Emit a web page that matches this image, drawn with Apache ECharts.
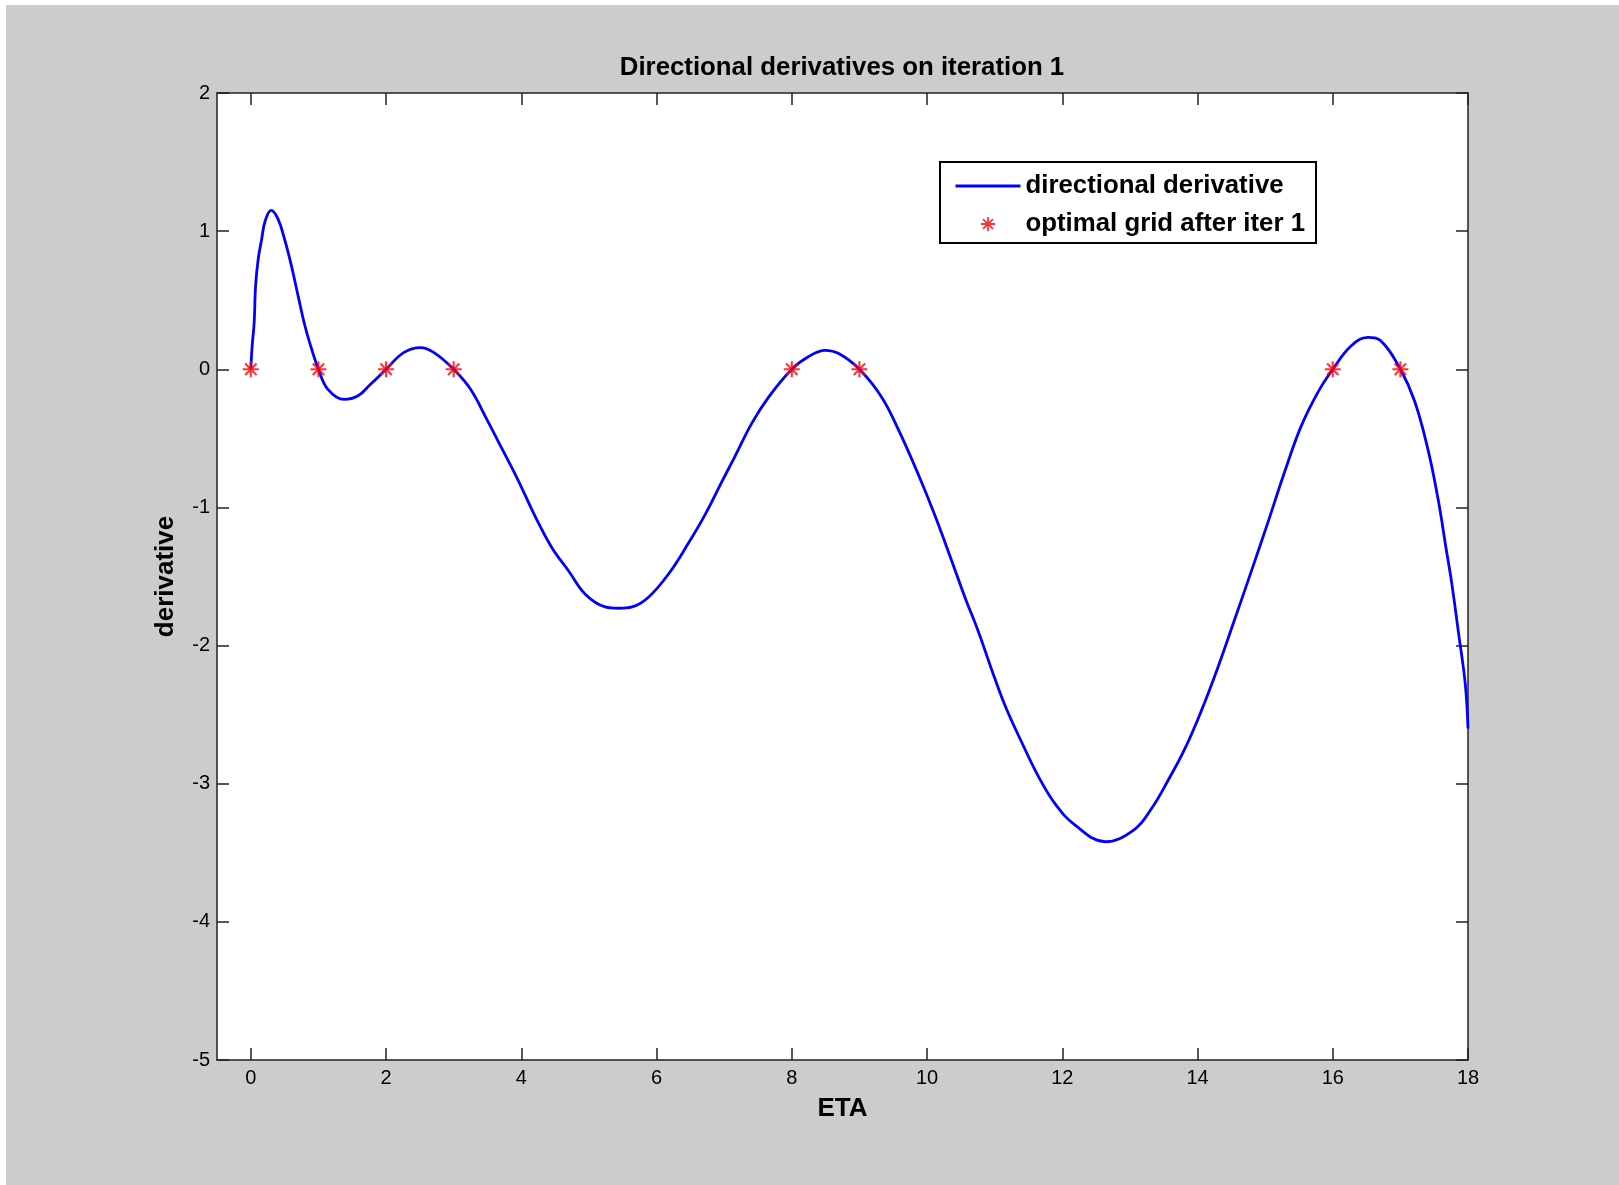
<!DOCTYPE html>
<html lang="en">
  <head>
    <meta charset="UTF-8" />
    <title>Directional derivatives on iteration 1</title>
    <script src="https://cdn.jsdelivr.net/npm/echarts@6.0.0/dist/echarts.min.js"></script>
    <style>
      body {
        margin: 0;
        background: #fff;
      }
      #chart {
        position: absolute;
        left: 6px;
        top: 5px;
        width: 1613px;
        height: 1180px;
      }
    </style>
  </head>
  <body>
    <div id="chart"></div>
  </body>
</html>
<script>
  // values
  const etaValues = [
    0, 0.02, 0.05, 0.07, 0.11, 0.16, 0.21, 0.3, 0.4, 0.5, 0.6, 0.7, 0.8, 0.9, 1.0,
    1.14, 1.38, 1.58, 1.77, 2.0, 2.26, 2.51, 2.71, 3.0, 3.25, 3.49, 3.72, 3.95,
    4.21, 4.45, 4.7, 4.95, 5.24, 5.44, 5.64, 5.88, 6.18, 6.47, 6.72, 6.97, 7.16,
    7.41, 7.66, 8.0, 8.25, 8.49, 8.7, 9.0, 9.32, 9.57, 9.87, 10.11, 10.36, 10.56,
    10.76, 10.96, 11.15, 11.4, 11.65, 11.9, 12.19, 12.64, 13.07, 13.32, 13.56,
    13.81, 14.05, 14.3, 14.55, 14.79, 15.04, 15.29, 15.53, 15.78, 16.0, 16.27,
    16.52, 16.71, 17.0, 17.21, 17.41, 17.56, 17.68, 17.76, 17.86, 17.96, 18.0,
  ];
  const derivValues = [
    0, 0.17, 0.34, 0.6, 0.8, 0.94, 1.07, 1.15, 1.09, 0.94, 0.75, 0.53, 0.315, 0.145, 0,
    -0.145, -0.218, -0.194, -0.109, 0, 0.121, 0.157, 0.121, 0, -0.145, -0.363, -0.58, -0.8,
    -1.07, -1.29, -1.46, -1.63, -1.72, -1.73, -1.72, -1.65, -1.48, -1.26, -1.05, -0.81, -0.63,
    -0.39, -0.2, 0, 0.092, 0.137, 0.112, 0, -0.195, -0.43, -0.76, -1.05, -1.38, -1.65,
    -1.9, -2.18, -2.43, -2.7, -2.95, -3.15, -3.3, -3.42, -3.33, -3.18, -2.98,
    -2.75, -2.48, -2.16, -1.81, -1.47, -1.11, -0.74, -0.415, -0.167, 0, 0.169,
    0.231, 0.206, 0, -0.23, -0.585, -0.947, -1.31, -1.55, -1.91, -2.28, -2.6,
  ];
  const gridEta = [0, 1, 2, 3, 8, 9, 16, 17];
  const gridDeriv = [0, 0, 0, 0, 0, 0, 0, 0];
  const xTicks = [0, 2, 4, 6, 8, 10, 12, 14, 16, 18];

  const font = "'Liberation Sans', Arial, Helvetica, sans-serif";
  const axisColor = "#222";
  // matlab-like asterisk marker
  const star =
    "path://M8.7 0L11.3 0L11.3 20L8.7 20Z M0 8.7L20 8.7L20 11.3L0 11.3Z " +
    "M1.98 3.82L3.82 1.98L18.02 16.18L16.18 18.02Z M16.18 1.98L18.02 3.82L3.82 18.02L1.98 16.18Z";

  const chart = echarts.init(document.getElementById("chart"));

  const xBase = {
    type: "value",
    min: -0.5,
    max: 18,
    splitLine: { show: false },
    axisLine: { show: true, onZero: false, lineStyle: { color: axisColor, width: 1.5 } },
    axisTick: { show: true, inside: true, length: 12, customValues: xTicks, lineStyle: { color: axisColor, width: 1.5 } },
  };
  const yBase = {
    type: "value",
    min: -5,
    max: 2,
    interval: 1,
    splitLine: { show: false },
    axisLine: { show: true, onZero: false, lineStyle: { color: axisColor, width: 1.5 } },
    axisTick: { show: true, inside: true, length: 12, lineStyle: { color: axisColor, width: 1.5 } },
  };

  const option = {
    backgroundColor: "#cccccc",
    animation: false,
    textStyle: { fontFamily: font },
    title: {
      text: "Directional derivatives on iteration 1",
      left: 836,
      top: 50,
      padding: 0,
      textAlign: "center",
      textStyle: { fontFamily: font, fontSize: 25.8, fontWeight: "bold", color: "#000" },
    },
    legend: {
      orient: "vertical",
      left: 934,
      top: 157,
      padding: [11, 11, 6, 14],
      itemGap: 12,
      itemWidth: 65,
      itemHeight: 14,
      selectedMode: false,
      backgroundColor: "#fff",
      borderColor: "#000",
      borderWidth: 2,
      textStyle: { fontFamily: font, fontSize: 25.8, fontWeight: "bold", color: "#000" },
      data: [
        { name: "directional derivative", itemStyle: { opacity: 0 }, lineStyle: { width: 3 } },
        "optimal grid after iter 1",
      ],
    },
    grid: {
      left: 211,
      top: 88,
      right: 151,
      bottom: 125,
      show: true,
      backgroundColor: "#fff",
      borderWidth: 0,
      containLabel: false,
    },
    xAxis: [
      Object.assign({}, xBase, {
        position: "bottom",
        name: "ETA",
        nameLocation: "middle",
        nameGap: 36,
        nameTextStyle: { fontFamily: font, fontSize: 26, fontWeight: "bold", color: "#000" },
        axisLabel: { customValues: xTicks, margin: 8, fontSize: 20, color: "#000", fontFamily: font },
      }),
      Object.assign({}, xBase, { position: "top", axisLabel: { show: false } }),
    ],
    yAxis: [
      Object.assign({}, yBase, {
        position: "left",
        name: "derivative",
        nameLocation: "middle",
        nameGap: 38,
        nameTextStyle: { fontFamily: font, fontSize: 26, fontWeight: "bold", color: "#000" },
        axisLabel: { margin: 7, fontSize: 20, color: "#000", fontFamily: font },
      }),
      Object.assign({}, yBase, { position: "right", axisLabel: { show: false } }),
    ],
    series: [
      {
        name: "directional derivative",
        type: "line",
        xAxisIndex: 0,
        yAxisIndex: 0,
        data: etaValues.map((x, i) => [x, derivValues[i]]),
        showSymbol: false,
        smooth: 0.4,
        color: "#0000ff",
        lineStyle: { color: "#0000ff", width: 2.8 },
        z: 2,
      },
      {
        name: "optimal grid after iter 1",
        type: "scatter",
        xAxisIndex: 0,
        yAxisIndex: 0,
        data: gridEta.map((x, i) => [x, gridDeriv[i]]),
        symbol: star,
        symbolSize: 16,
        color: "#ff0000",
        itemStyle: { color: "#ff0000" },
        z: 3,
      },
    ],
  };
  chart.setOption(option);
</script>
